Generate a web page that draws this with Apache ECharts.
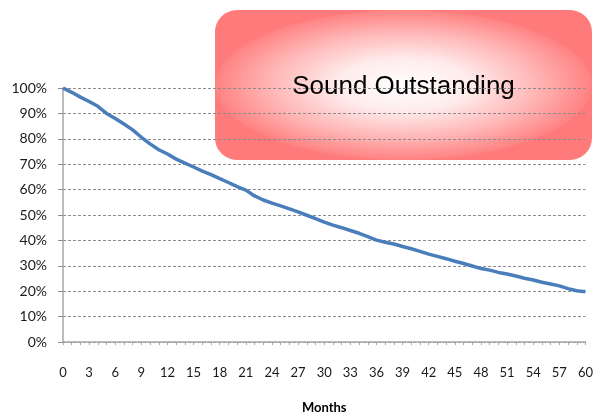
<!DOCTYPE html>
<html>
<head>
<meta charset="utf-8">
<style>
  html, body { margin: 0; padding: 0; background: #ffffff; }
  #chart { width: 596px; height: 419px; }
</style>
<script src="https://cdn.jsdelivr.net/npm/echarts@6/dist/echarts.min.js"></script>
</head>
<body>
<div id="chart"></div>
<script>
// Share of the balance still outstanding, by month since origination (%)
const months = [];
for (let m = 0; m <= 60; m++) months.push(m);
const outstanding = [
  100.0, 98.3, 96.4, 94.7, 92.8, 90.0, 88.0, 85.8, 83.5, 80.6,
  78.0, 75.7, 74.0, 72.0, 70.4, 68.9, 67.3, 65.9, 64.3, 62.8,
  61.2, 59.8, 57.5, 55.9, 54.7, 53.6, 52.4, 51.2, 49.9, 48.6,
  47.2, 46.0, 45.0, 43.9, 42.8, 41.5, 40.1, 39.3, 38.6, 37.6,
  36.7, 35.7, 34.6, 33.7, 32.8, 31.8, 30.9, 29.9, 28.9, 28.3,
  27.4, 26.8, 26.0, 25.1, 24.4, 23.5, 22.8, 22.1, 21.0, 20.2,
  19.8
];
const xLabelStep = 3;
const yTicks = [0, 10, 20, 30, 40, 50, 60, 70, 80, 90, 100];
const xTitle = 'Months';
const boxTitle = 'Sound Outstanding';

const chart = echarts.init(document.getElementById('chart'), null, { renderer: 'canvas' });

const axisGrey = '#a6a6a6';
const labelFont = 'Lato, "Open Sans", sans-serif';

// Banner: red rounded panel with a white glow spreading from its centre,
// kept underneath the grid lines
const box = { x: 215, y: 10, w: 377, h: 150, r: 22 };
const glowR = box.h / 2;

chart.setOption({
  animation: false,
  backgroundColor: '#ffffff',
  grid: { left: 63, right: 9, top: 88, bottom: 73, containLabel: false, z: 5 },
  xAxis: {
    type: 'value',
    min: 0,
    max: 60,
    interval: 1,
    z: 5,
    name: xTitle,
    nameLocation: 'middle',
    nameGap: 59,
    nameTextStyle: { fontFamily: labelFont, fontSize: 13, fontWeight: 'bold', color: '#000' },
    axisLine: { show: true, lineStyle: { color: axisGrey, width: 1.5 } },
    axisTick: { show: true, length: 3, lineStyle: { color: axisGrey, width: 1 } },
    axisLabel: {
      margin: 24,
      fontFamily: labelFont,
      fontSize: 13,
      color: '#1a1a1a',
      formatter: v => (v % xLabelStep === 0 ? String(v) : '')
    },
    splitLine: { show: false }
  },
  yAxis: {
    type: 'value',
    min: yTicks[0],
    max: yTicks[yTicks.length - 1],
    interval: yTicks[1] - yTicks[0],
    z: 5,
    axisLine: { show: true, lineStyle: { color: axisGrey, width: 1.5 } },
    axisTick: { show: true, length: 5, lineStyle: { color: '#8c8c8c', width: 1 } },
    axisLabel: {
      margin: 16,
      fontFamily: labelFont,
      fontSize: 14,
      color: '#1a1a1a',
      padding: [3, 0, 0, 0],
      formatter: '{value}%'
    },
    splitLine: { show: true, lineStyle: { color: '#8c8c8c', width: 1, type: [3, 2] } }
  },
  series: [{
    type: 'line',
    z: 6,
    data: months.map((m, i) => [m, outstanding[i]]),
    symbol: 'none',
    smooth: false,
    lineStyle: { color: '#4a7ebb', width: 3.5 }
  }],
  graphic: {
    z: -1,
    zlevel: 0,
    elements: [
      {
        type: 'rect',
        z: -3,
        shape: { x: box.x, y: box.y, width: box.w, height: box.h, r: box.r },
        style: { fill: '#ff7b7b' },
        silent: true
      },
      {
        type: 'group',
        x: box.x + box.w / 2,
        y: box.y + box.h / 2,
        scaleX: box.w / box.h,
        silent: true,
        children: [{
          type: 'circle',
          z: -2,
          shape: { cx: 0, cy: 0, r: glowR },
          style: {
            fill: {
              type: 'radial', x: 0.5, y: 0.5, r: 0.5,
              colorStops: [
                { offset: 0, color: 'rgba(255,255,255,1)' },
                { offset: 0.35, color: 'rgba(255,255,255,0.85)' },
                { offset: 0.7, color: 'rgba(255,255,255,0.45)' },
                { offset: 1, color: 'rgba(255,255,255,0.05)' }
              ]
            }
          }
        }]
      },
      {
        type: 'text',
        z: -1,
        x: box.x + box.w / 2,
        y: 87,
        silent: true,
        style: {
          text: boxTitle,
          fontFamily: '"Liberation Sans", Arial, sans-serif',
          fontSize: 26,
          fill: '#000000',
          align: 'center',
          verticalAlign: 'middle'
        }
      }
    ]
  }
});
</script>
</body>
</html>
